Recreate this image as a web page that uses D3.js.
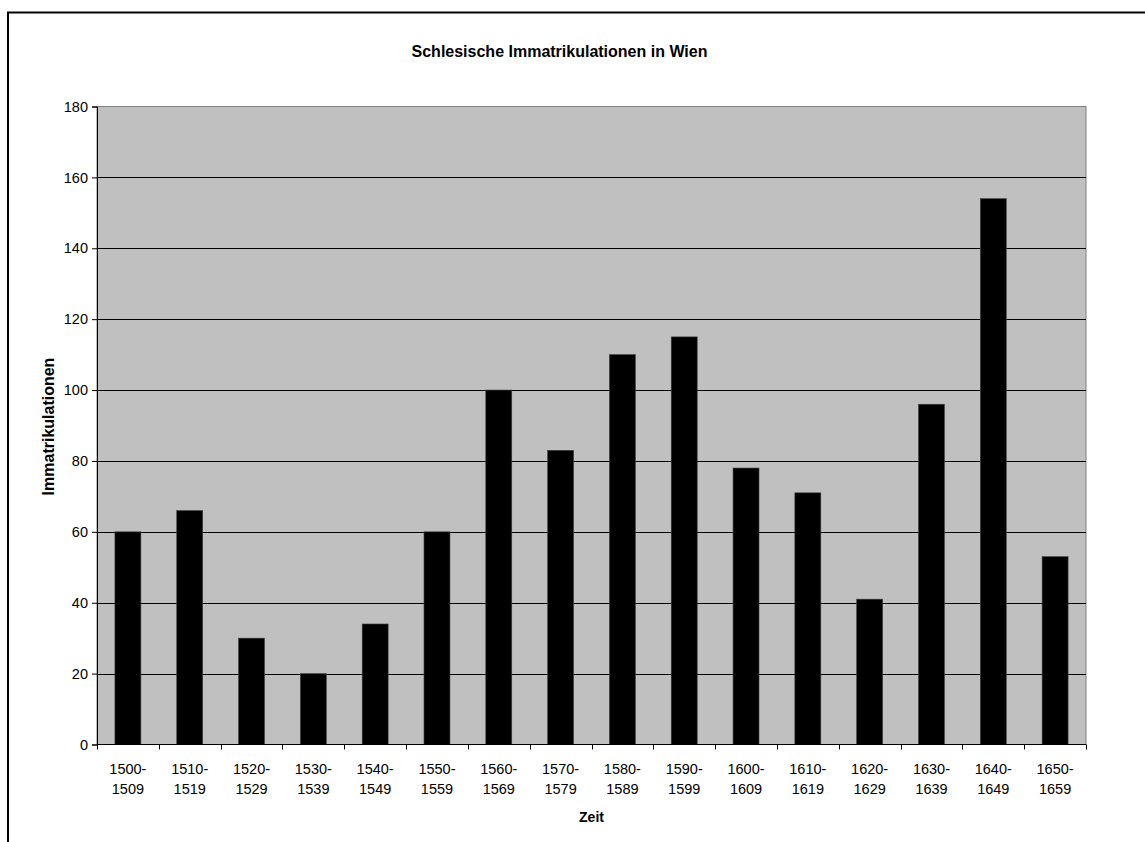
<!DOCTYPE html>
<html><head><meta charset="utf-8">
<script src="https://cdn.jsdelivr.net/npm/d3@7"></script>
<style>body{margin:0;background:#fff}svg{display:block}text{font-family:"Liberation Sans",Arial,sans-serif;fill:#000}</style>
</head><body>
<svg id="c" width="1145" height="842"></svg>
<script>
const categories = ["1500-1509","1510-1519","1520-1529","1530-1539","1540-1549","1550-1559","1560-1569","1570-1579","1580-1589","1590-1599","1600-1609","1610-1619","1620-1629","1630-1639","1640-1649","1650-1659"];
const values = [60,66,30,20,34,60,100,83,110,115,78,71,41,96,154,53];
const yTicks = [0,20,40,60,80,100,120,140,160,180];
const title = "Schlesische Immatrikulationen in Wien";
const xTitle = "Zeit";
const yTitle = "Immatrikulationen";

const svg = d3.select("#c");
const m = {left:97, top:106.5, right:1086, bottom:744.5};

svg.append("rect").attr("x",8).attr("y",12.5).attr("width",1300).attr("height",1000)
  .attr("fill","none").attr("stroke","#000").attr("stroke-width",2);

const x = d3.scaleBand().domain(categories).range([m.left,m.right]).paddingInner(0.58).paddingOuter(0.29);
const xb = d3.scaleBand().domain(categories).range([m.left,m.right]);
const y = d3.scaleLinear().domain([0,180]).range([m.bottom,m.top]);

svg.append("rect").attr("x",m.left).attr("y",m.top).attr("width",m.right-m.left).attr("height",m.bottom-m.top)
  .attr("fill","#c0c0c0").attr("stroke","#808080").attr("stroke-width",1);

svg.append("g").selectAll("line").data(yTicks.slice(1,-1)).join("line")
  .attr("x1",m.left).attr("x2",m.right)
  .attr("y1",d=>Math.round(y(d))+0.5).attr("y2",d=>Math.round(y(d))+0.5)
  .attr("stroke","#000").attr("stroke-width",1);

svg.append("g").selectAll("rect").data(values).join("rect")
  .attr("x",(d,i)=>x(categories[i])).attr("width",x.bandwidth())
  .attr("y",d=>y(d)).attr("height",d=>m.bottom-y(d))
  .attr("fill","#000").attr("stroke","#404040").attr("stroke-width",0.6);

// y axis
const ya = svg.append("g").attr("transform",`translate(${m.left},0)`)
  .call(d3.axisLeft(y).tickValues(yTicks).tickSize(5).tickPadding(4).tickFormat(d3.format("d")));
ya.select(".domain").attr("stroke","#000");
ya.selectAll("text").style("font-size","14.5px");

// x axis: ticks at boundaries
const xg = svg.append("g");
xg.append("line").attr("x1",m.left).attr("x2",m.right).attr("y1",m.bottom).attr("y2",m.bottom).attr("stroke","#000");
const bounds = categories.map(c=>xb(c)).concat([m.right]);
xg.selectAll("line.t").data(bounds).join("line").attr("class","t")
  .attr("x1",d=>Math.round(d)+0.5).attr("x2",d=>Math.round(d)+0.5)
  .attr("y1",m.bottom).attr("y2",m.bottom+5).attr("stroke","#000");
const lbl = xg.selectAll("text").data(categories).join("text")
  .attr("text-anchor","middle").attr("x",c=>xb(c)+xb.bandwidth()/2)
  .style("font-size","14.5px");
lbl.append("tspan").attr("x",c=>xb(c)+xb.bandwidth()/2).attr("y",774).text(c=>c.split("-")[0]+"-");
lbl.append("tspan").attr("x",c=>xb(c)+xb.bandwidth()/2).attr("y",794).text(c=>c.split("-")[1]);

svg.append("text").attr("x",559.5).attr("y",57).attr("text-anchor","middle")
  .style("font-size","16px").style("font-weight","bold").text(title);
svg.append("text").attr("x",(m.left+m.right)/2).attr("y",822).attr("text-anchor","middle")
  .style("font-size","14px").style("font-weight","bold").text(xTitle);
svg.append("text").attr("transform",`translate(53.5,426.5) rotate(-90)`).attr("text-anchor","middle")
  .style("font-size","16px").style("font-weight","bold").text(yTitle);
</script>
</body></html>
